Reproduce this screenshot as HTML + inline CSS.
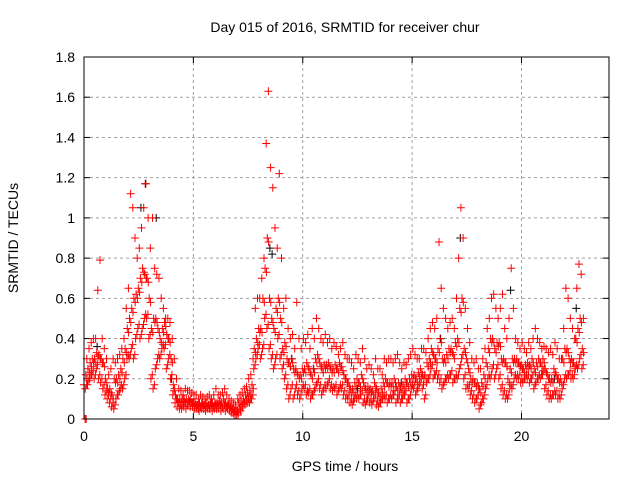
<!DOCTYPE html>
<html><head><meta charset="utf-8"><style>
body{margin:0;background:#fff}
svg{display:block;font-family:"Liberation Sans",sans-serif}
</style></head><body>
<svg id="chart" width="640" height="480" viewBox="0 0 640 480">
<rect width="640" height="480" fill="#fff"/>
<text x="345" y="32" font-size="14" text-anchor="middle">Day 015 of 2016, SRMTID for receiver chur</text>
<text x="345" y="471" font-size="14" text-anchor="middle">GPS time / hours</text>
<text transform="translate(18,238) rotate(-90)" font-size="14" text-anchor="middle">SRMTID / TECUs</text>
<g id="grid"></g>
<g id="ticks"></g>
<g id="marks"></g>
<rect x="84" y="57" width="525" height="362" fill="none" stroke="#000" stroke-width="1"/>
</svg>
<script>
const xTicks=[0,5,10,15,20];
const yTicks=[0,0.2,0.4,0.6,0.8,1,1.2,1.4,1.6,1.8];
const yTickLabels=["0","0.2","0.4","0.6","0.8","1","1.2","1.4","1.6","1.8"];
const tStart=0.1, tStep=0.1;
const lo=[.15,.17,.2,.22,.2,.25,.2,.18,.15,.12, .1,.08,.06,.05,.1,.12,.15,.15,.2,.3, .3,.35,.3,.4,.45,.4,.45,.5,.5,.4, .2,.15,.25,.3,.3,.35,.35,.25,.3,.2, .12,.08,.06,.05,.05,.06,.05,.07,.06,.06, .05,.05,.04,.05,.05,.04,.05,.05,.04,.05, .05,.05,.04,.05,.04,.05,.04,.03,.02,.02, .03,.04,.06,.07,.08,.08,.1,.25,.3,.35, .3,.35,.5,.45,.35,.3,.25,.3,.4,.3, .25,.2,.15,.1,.15,.1,.15,.12,.1,.15, .15,.12,.13,.1,.12,.15,.18,.15,.12,.15, .15,.18,.15,.14,.15,.12,.15,.15,.12,.1, .1,.08,.07,.1,.1,.1,.12,.08,.07,.1, .08,.07,.1,.07,.06,.08,.1,.1,.08,.1, .1,.12,.08,.1,.08,.1,.12,.08,.1,.15, .15,.12,.15,.18,.15,.1,.18,.2,.25,.2, .22,.2,.18,.15,.18,.2,.2,.22,.18,.2, .2,.25,.3,.2,.15,.15,.12,.1,.08,.1, .05,.08,.1,.15,.2,.2,.25,.2,.25,.2, .15,.12,.1,.1,.15,.15,.2,.2,.2,.18, .18,.2,.2,.18,.2,.15,.18,.2,.2,.22, .15,.12,.1,.1,.12,.12,.1,.1,.15,.2, .2,.22,.2,.2,.25,.25,.3,.25];
const mid=[.22,.25,.28,.3,.3,.33,.32,.3,.28,.2, .15,.15,.12,.2,.2,.22,.25,.3,.35,.45, .5,.55,.6,.62,.65,.7,.75,.72,.7,.6, .45,.5,.5,.45,.4,.45,.48,.42,.4,.3, .17,.12,.1,.1,.1,.1,.1,.1,.1,.08, .08,.07,.08,.08,.07,.08,.07,.08,.08,.08, .08,.09,.08,.1,.08,.07,.06,.05,.04,.04, .08,.09,.1,.12,.13,.14,.17,.35,.4,.45, .45,.6,.75,.9,.6,.5,.45,.55,.6,.5, .35,.38,.3,.28,.3,.25,.25,.22,.22,.25, .25,.28,.25,.22,.25,.3,.32,.28,.25,.27, .27,.28,.25,.25,.27,.25,.28,.26,.22,.2, .18,.15,.15,.18,.2,.18,.22,.18,.15,.16, .15,.14,.18,.15,.13,.15,.18,.2,.18,.18, .18,.2,.16,.18,.15,.17,.2,.18,.2,.22, .22,.2,.23,.25,.22,.22,.28,.3,.35,.32, .3,.35,.4,.3,.3,.32,.35,.35,.32,.38, .4,.55,.6,.35,.3,.25,.2,.2,.18,.18, .15,.18,.22,.28,.35,.4,.4,.35,.38,.38, .3,.3,.28,.2,.25,.3,.3,.3,.28,.27, .25,.27,.28,.27,.3,.25,.28,.3,.28,.3, .25,.22,.2,.2,.25,.22,.2,.2,.3,.35, .35,.3,.3,.28,.4,.45,.5,.35];
const hi=[.3,.35,.38,.4,.4,.64,.79,.4,.35,.3, .22,.25,.3,.28,.3,.32,.35,.4,.55,.65, 1.12,1.05,.9,.8,.85,.95,1.05,1.17,1.0,.85, 1.0,.75,.72,.7,.6,.55,.5,.5,.48,.4, .3,.2,.15,.14,.12,.15,.14,.14,.13,.12, .12,.1,.12,.11,.1,.11,.12,.1,.12,.15, .12,.12,.13,.15,.12,.1,.09,.08,.07,.1, .12,.13,.15,.16,.2,.22,.3,.55,.6,.6, .7,.8,1.37,1.63,1.25,1.15,.95,.85,1.22,.8, .55,.6,.45,.4,.42,.35,.58,.4,.35,.4, .38,.42,.35,.45,.4,.5,.45,.4,.38,.42, .38,.4,.35,.38,.36,.32,.35,.38,.32,.3, .3,.28,.25,.32,.3,.28,.35,.3,.25,.27, .25,.22,.3,.25,.25,.22,.3,.28,.3,.3, .28,.3,.32,.28,.25,.28,.27,.3,.32,.35, .32,.3,.3,.35,.35,.33,.4,.45,.48,.45, .5,.88,.65,.55,.5,.45,.48,.5,.45,.6, .8,1.05,.9,.55,.45,.38,.3,.28,.3,.25, .25,.3,.35,.45,.5,.6,.62,.55,.5,.55, .62,.45,.4,.5,.75,.55,.4,.38,.35,.38, .35,.33,.38,.35,.4,.45,.4,.38,.35,.36, .35,.33,.35,.32,.38,.35,.3,.3,.45,.65, .6,.5,.45,.4,.65,.77,.72,.5];
const extraT=[0.0,0.05,0.1];
const extraV=[0.17,0.0,0.0];
const blackT=[0.6,2.6,2.8,3.3,4.0,8.5,8.6,9.5,10.5,12.5,14.5,16.3,17.2,19.5,21.5,22.5];
const blackV=[0.36,1.05,1.17,1.0,0.2,0.85,0.82,0.3,0.25,0.15,0.18,0.4,0.9,0.64,0.2,0.55];

const X0=84,X1=609,Y0=419,Y1=57,XMAX=24,YMAX=1.8;
const xs=t=>X0+(X1-X0)*t/XMAX;
const ys=v=>Y0-(Y0-Y1)*v/YMAX;
const NS='http://www.w3.org/2000/svg';
function mk(tag,attrs,parent){const e=document.createElementNS(NS,tag);for(const k in attrs)e.setAttribute(k,attrs[k]);parent.appendChild(e);return e;}
const grid=document.getElementById('grid'),ticks=document.getElementById('ticks'),marks=document.getElementById('marks');
yTicks.forEach((v,i)=>{const y=ys(v);
 if(i>0&&i<yTicks.length-1){const g=mk('line',{x1:X0,x2:X1,y1:y,y2:y,stroke:'#a0a0a0','stroke-dasharray':'3,3'},grid);
 
 }
 mk('line',{x1:X0,x2:X0+6,y1:y,y2:y,stroke:'#000'},ticks);
 mk('line',{x1:X1,x2:X1-6,y1:y,y2:y,stroke:'#000'},ticks);
 const t=mk('text',{x:X0-9,y:y+5,'font-size':14,'text-anchor':'end'},ticks);t.textContent=yTickLabels[i];
 
 
});
xTicks.forEach(v=>{const x=xs(v);
 if(v>0){const g=mk('line',{x1:x,x2:x,y1:Y0,y2:Y1,stroke:'#a0a0a0','stroke-dasharray':'3,3'},grid);
 
 }
 mk('line',{x1:x,x2:x,y1:Y0,y2:Y0-6,stroke:'#000'},ticks);
 mk('line',{x1:x,x2:x,y1:Y1,y2:Y1+6,stroke:'#000'},ticks);
 const t=mk('text',{x:x,y:Y0+22,'font-size':14,'text-anchor':'middle'},ticks);t.textContent=String(v);
 
 
});
let dRed='',dBlack='';
const plus=(t,v)=>{const x=xs(t),y=ys(v);return `M${(x-4).toFixed(1)} ${y.toFixed(1)}h8M${x.toFixed(1)} ${(y-4).toFixed(1)}v8`;};
for(let i=0;i<mid.length;i++){const t=tStart+i*tStep;
 dRed+=plus(t-0.04,lo[i])+plus(t+0.02,lo[i]+0.02)+plus(t-0.02,mid[i])+plus(t+0.04,mid[i]-0.02)+plus(t+0.03,hi[i]);}
extraT.forEach((t,i)=>dRed+=plus(t,extraV[i]));
blackT.forEach((t,i)=>dBlack+=plus(t,blackV[i]));
const pb=mk('path',{d:dBlack,stroke:'#000',fill:'none','stroke-width':1},marks);


const pr=mk('path',{d:dRed,stroke:'#ff0000',fill:'none','stroke-width':1},marks);


</script>
</body></html>
